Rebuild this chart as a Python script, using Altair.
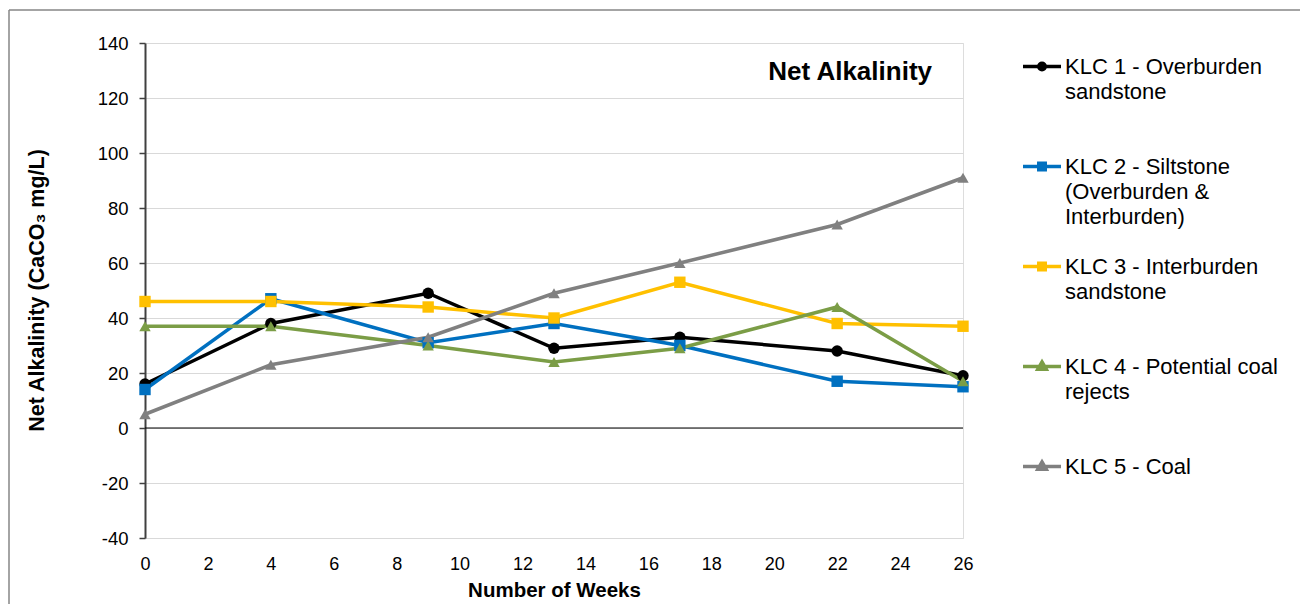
import altair as alt
import pandas as pd

# ---- data ----
weeks = [0, 4, 9, 13, 17, 22, 26]
klc1 = [16, 38, 49, 29, 33, 28, 19]
klc2 = [14, 47, 31, 38, 30, 17, 15]
klc3 = [46, 46, 44, 40, 53, 38, 37]
klc4 = [37, 37, 30, 24, 29, 44, 17]
klc5 = [5, 23, 33, 49, 60, 74, 91]

series_names = [
    "KLC 1 - Overburden sandstone",
    "KLC 2 - Siltstone (Overburden & Interburden)",
    "KLC 3 - Interburden sandstone",
    "KLC 4 - Potential coal rejects",
    "KLC 5 - Coal",
]
legend_lines = [
    ["KLC 1 - Overburden", "sandstone"],
    ["KLC 2 - Siltstone", "(Overburden &", "Interburden)"],
    ["KLC 3 - Interburden", "sandstone"],
    ["KLC 4 - Potential coal", "rejects"],
    ["KLC 5 - Coal"],
]
series_values = [klc1, klc2, klc3, klc4, klc5]
colors = ["#000000", "#0070C0", "#FFC000", "#7B9D46", "#808080"]
marker_shapes = ["circle", "square", "square", "triangle-up", "triangle-up"]

y_ticks = list(range(-40, 141, 20))
x_ticks = list(range(0, 27, 2))

rows = []
for name, vals in zip(series_names, series_values):
    for w, v in zip(weeks, vals):
        rows.append({"week": w, "value": v, "series": name})
df = pd.DataFrame(rows)

# legend symbols: line segment + marker (unit box -1..1), shifted down so
# that they sit on the first text line of a top-anchored label
d = 0.5
r = 0.17
seg = f"M-1,{d}H1"
legend_paths = [
    seg + f"M{r},{d}A{r},{r} 0 1,1 -{r},{d}A{r},{r} 0 1,1 {r},{d}Z",
    seg + f"M-{r},{d - r}H{r}V{d + r}H-{r}Z",
    seg + f"M-{r},{d - r}H{r}V{d + r}H-{r}Z",
    seg + f"M0,{d - 0.24}L0.22,{d + 0.14}H-0.22Z",
    seg + f"M0,{d - 0.24}L0.22,{d + 0.14}H-0.22Z",
]

# multi-line legend labels, all padded to three lines
NBSP = "\u00a0"
def js_list(lines):
    padded = lines + [NBSP] * (3 - len(lines))
    return "[" + ",".join("'" + s + "'" for s in padded) + "]"

expr = ""
for name, lines in zip(series_names, legend_lines):
    expr += f"datum.label === '{name}' ? {js_list(lines)} : "
expr += "datum.label"

FONT = "Liberation Sans"

cscale = alt.Scale(domain=series_names, range=colors)
xenc = alt.X(
    "week:Q",
    scale=alt.Scale(domain=[0, 26], nice=False),
    axis=alt.Axis(
        values=x_ticks, title="Number of Weeks", grid=False, ticks=False,
        domain=False, labelFontSize=18, labelPadding=17, labelColor="black",
        labelFlush=False,
        labelFont=FONT, titleFont=FONT, titleFontSize=20.5, titleFontWeight="bold",
        titleColor="black", titleY=52, titleBaseline="middle",
    ),
)
yenc = alt.Y(
    "value:Q",
    scale=alt.Scale(domain=[-40, 140], nice=False),
    axis=alt.Axis(
        values=y_ticks, title="Net Alkalinity (CaCO₃ mg/L)", grid=True,
        gridColor="#D9D9D9", gridWidth=1, domainColor="#404040", domainWidth=2,
        tickColor="#404040", tickSize=6, tickWidth=1.5, labelPadding=11,
        labelFontSize=18.5, labelColor="black", labelFont=FONT, titleFont=FONT,
        labelExpr="toString(datum.value)", labelFlush=False,
        titleFontSize=21.5, titleFontWeight="bold", titleColor="black",
        titleX=-108, titleY=247, titleBaseline="middle", titleAngle=270,
    ),
)

legend_def = dict(
    title=None, orient="none", legendX=876, legendY=-7,
    symbolSize=1444, symbolStrokeWidth=3.5, symbolOpacity=1,
    labelFontSize=22, labelFont=FONT, labelColor="black", labelLimit=400,
    labelOffset=2, labelBaseline="top", rowPadding=8, padding=0,
    labelExpr=expr,
)

base = alt.Chart(df)

zero = alt.Chart(pd.DataFrame({"z": [0]})).mark_rule(color="black", strokeWidth=1).encode(
    y=alt.datum(0)
)

lines = base.mark_line(strokeWidth=3.5).encode(
    x=xenc, y=yenc,
    color=alt.Color("series:N", scale=cscale, legend=None),
    order="week:Q",
)

points = base.mark_point(filled=True, size=130, opacity=1).encode(
    x=xenc, y=yenc,
    color=alt.Color("series:N", scale=cscale, legend=None),
    shape=alt.Shape("series:N", scale=alt.Scale(domain=series_names, range=marker_shapes), legend=None),
)

legend_layer = base.transform_filter("false").mark_point(filled=True, opacity=1).encode(
    x=xenc, y=yenc,
    fill=alt.Fill("series:N", scale=cscale, legend=alt.Legend(**legend_def)),
    stroke=alt.Stroke("series:N", scale=cscale, legend=alt.Legend(**legend_def)),
    shape=alt.Shape("series:N", scale=alt.Scale(domain=series_names, range=legend_paths),
                    legend=alt.Legend(**legend_def)),
)

one = alt.Chart(pd.DataFrame({"a": [0]}))
frame_top = one.mark_rule(color="#868686", strokeWidth=1.5).encode(
    x=alt.value(-136), x2=alt.value(1200), y=alt.value(-33)
)
frame_left = one.mark_rule(color="#868686", strokeWidth=1.5).encode(
    x=alt.value(-136), y=alt.value(-33), y2=alt.value(700)
)

title = one.mark_text(
    text="Net Alkalinity", font=FONT, fontSize=26, fontWeight="bold",
    color="black", align="right", baseline="middle",
).encode(x=alt.value(787), y=alt.value(29))

chart = alt.layer(
    frame_top, frame_left, zero, lines, points, legend_layer, title
).resolve_scale(
    shape="independent", fill="independent", stroke="independent"
).properties(
    width=818, height=495,
    padding={"left": 137, "top": 35, "right": 337, "bottom": 66},
    autosize=alt.AutoSizeParams(type="none"),
).configure_view(
    stroke="#868686", strokeWidth=1.5
).configure(
    background="white", font=FONT, style={"guide-label": {"lineHeight": 25}},
)

chart.save("out.html", embed_options={"renderer": "svg", "actions": False})
